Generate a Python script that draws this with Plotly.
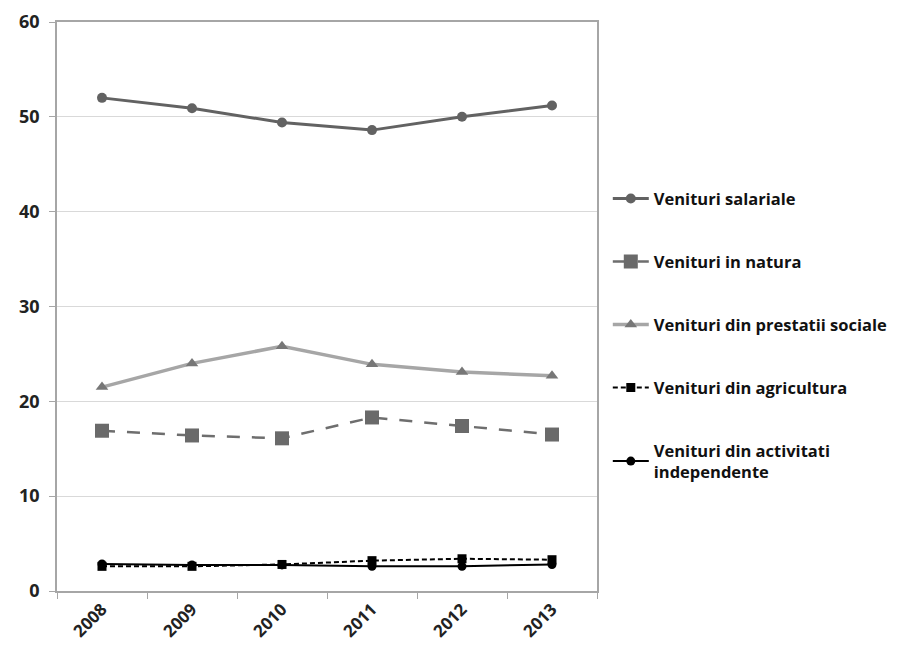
import plotly.graph_objects as go

years = ["2008", "2009", "2010", "2011", "2012", "2013"]
salariale = [52.0, 50.9, 49.4, 48.6, 50.0, 51.2]
natura = [16.9, 16.4, 16.1, 18.3, 17.4, 16.5]
prestatii = [21.5, 24.0, 25.8, 23.9, 23.1, 22.7]
agricultura = [2.6, 2.6, 2.8, 3.2, 3.4, 3.3]
independente = [2.85, 2.75, 2.75, 2.6, 2.6, 2.8]

names = ["Venituri salariale", "Venituri in natura", "Venituri din prestatii sociale",
         "Venituri din agricultura", "Venituri din activitati<br>independente"]

FONT = "Open Sans"

fig = go.Figure()
fig.add_trace(go.Scatter(x=years, y=salariale, name=names[0], mode="lines+markers",
                         line=dict(color="#626262", width=3),
                         marker=dict(symbol="circle", size=10, color="#626262"),
                         legendgroup="a"))
fig.add_trace(go.Scatter(x=years, y=natura, name=names[1], mode="lines+markers",
                         line=dict(color="#6e6e6e", width=2.5, dash="13px,12px"),
                         marker=dict(symbol="square", size=14, color="#6a6a6a"),
                         legendgroup="b"))
fig.add_trace(go.Scatter(x=years, y=prestatii, name=names[2], mode="lines+markers",
                         line=dict(color="#a6a6a6", width=3.5),
                         marker=dict(symbol="triangle-up", size=11, color="#777777"),
                         legendgroup="c"))
fig.add_trace(go.Scatter(x=years, y=agricultura, name=names[3], mode="lines+markers",
                         line=dict(color="#000000", width=2, dash="5px,3px"),
                         marker=dict(symbol="square", size=9, color="#000000"),
                         legendgroup="d"))
fig.add_trace(go.Scatter(x=years, y=independente, name=names[4], mode="lines+markers",
                         line=dict(color="#000000", width=2),
                         marker=dict(symbol="circle", size=9, color="#000000"),
                         legendgroup="e"))

fig.update_layout(
    width=907, height=649,
    margin=dict(l=49, r=318, t=14, b=66, autoexpand=False),
    paper_bgcolor="white", plot_bgcolor="white",
    font=dict(family=FONT, size=16, color="#1a1a1a"),
    legend=dict(x=1.02, y=0.72, xanchor="left", yanchor="top",
                tracegroupgap=38.5, traceorder="grouped",
                font=dict(family=FONT, size=16.5, color="#111111", weight="bold"),
                itemwidth=36),
    showlegend=True,
)
fig.update_xaxes(type="category", range=[-0.5, 5.5], showgrid=False, automargin=False,
                 showline=True, linecolor="#a6a6a6", linewidth=1.5, mirror=True,
                 ticks="outside", tickson="boundaries", ticklen=6, tickcolor="#a6a6a6",
                 tickangle=-45,
                 tickfont=dict(family=FONT, size=17, color="#222222", weight="bold"))
fig.update_yaxes(range=[0, 60], dtick=10, showgrid=True, gridcolor="#d9d9d9", gridwidth=1,
                 automargin=False, ticklabelstandoff=6,
                 showline=True, linecolor="#a6a6a6", linewidth=1.5, mirror=True,
                 ticks="outside", ticklen=6, tickcolor="#a6a6a6", zeroline=False,
                 tickfont=dict(family=FONT, size=18, color="#222222", weight="bold"))

fig.write_html("out.html")
